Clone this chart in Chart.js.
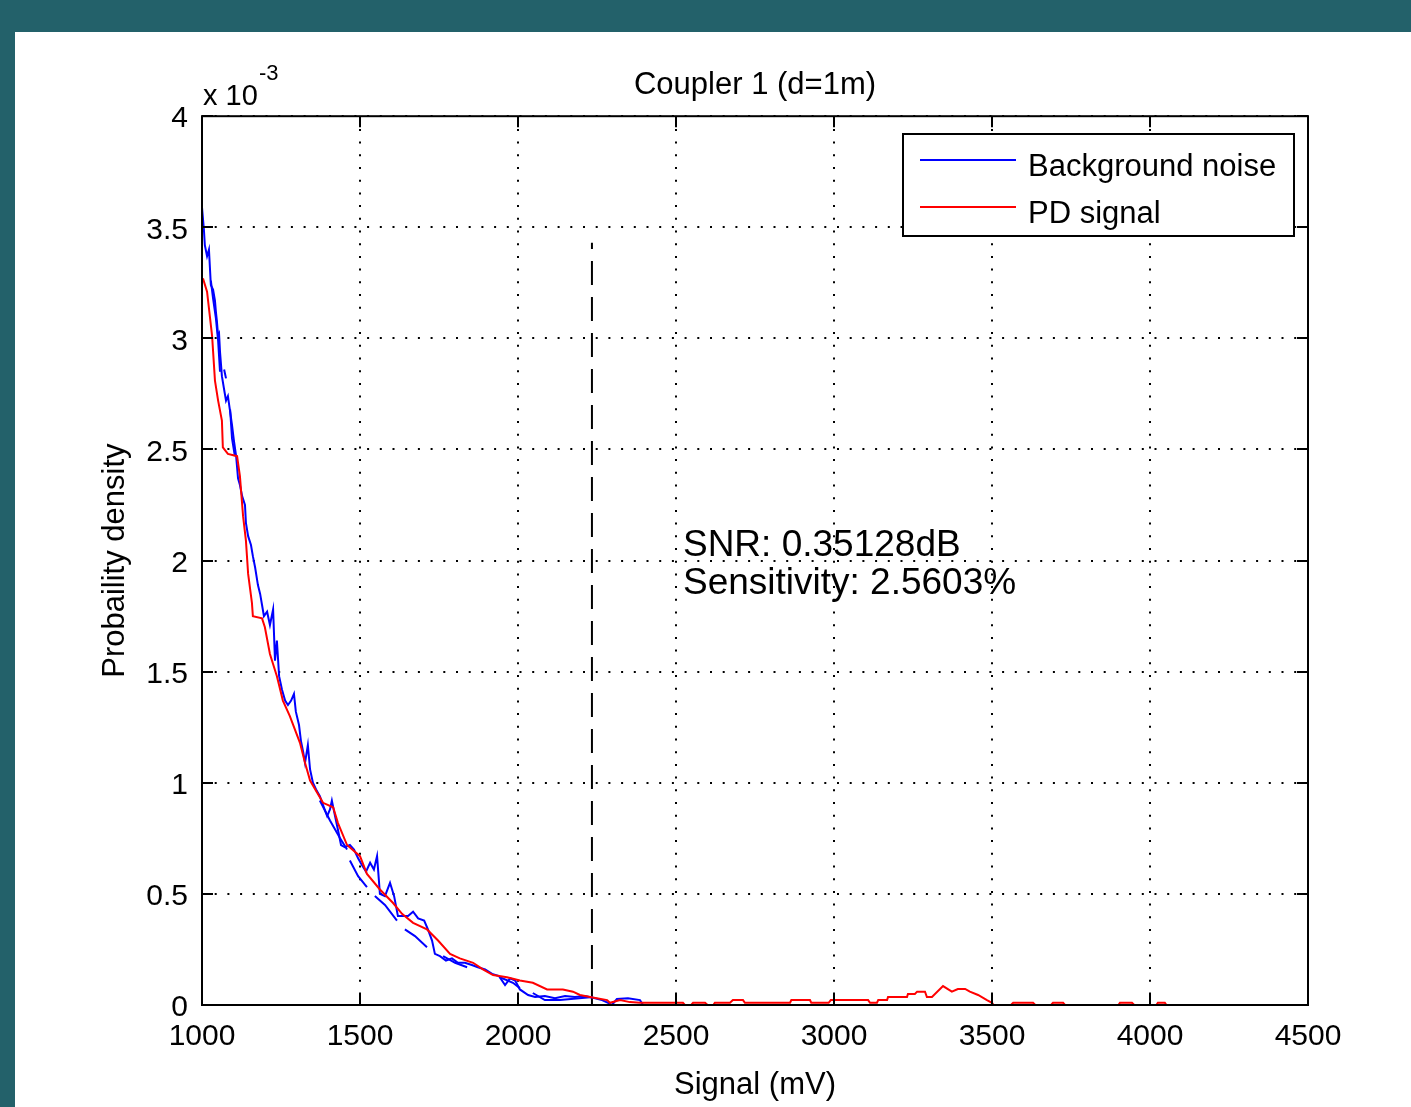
<!DOCTYPE html>
<html>
<head>
<meta charset="utf-8">
<script src="https://cdn.jsdelivr.net/npm/chart.js@4.4.1/dist/chart.umd.min.js"></script>
<style>
html,body{margin:0;padding:0;background:#23616a;overflow:hidden;}
canvas{display:block;}
</style>
</head>
<body>
<canvas id="c" width="1411" height="1107"></canvas>
<script>
// ---- DATA (signal in mV, density in units of 1e-3) ----
const chartTitle = 'Coupler 1 (d=1m)';
const xLabel = 'Signal (mV)';
const yLabel = 'Probaility density';
const xTickValues = [1000, 1500, 2000, 2500, 3000, 3500, 4000, 4500];
const yTickValues = [0, 0.5, 1, 1.5, 2, 2.5, 3, 3.5, 4];
const seriesNames = ['Background noise', 'PD signal'];

const noiseX = [1000,1006,1009,1016,1022,1025,1028,1035,1041,1044,1047,1051,1054,1057,1063,1070,1076,1082,1089,1095,1101,1108,1114,1120,1127,1136,1139,1146,1155,1161,1168,1177,1184,1190,1196,1206,1215,1225,1231,1237,1244,1253,1263,1272,1282,1291,1297,1307,1313,1320,1326,1335,1342,1351,1361,1373,1383,1396,1405,1411,1421,1430,1440,1452,1468,1481,1494,1506,1519,1532,1544,1554,1563,1579,1595,1608,1620,1636,1652,1668,1684,1703,1715,1728,1737,1753,1772,1791,1810,1832,1854,1873,1896,1918,1940,1959,1975,1991,2006,2032,2054,2085,2117,2149,2180,2212,2244,2266,2285,2297,2313,2348,2386,2396];
const noiseY = [3.59,3.49,3.42,3.37,3.40,3.32,3.24,3.22,3.17,3.12,3.08,3.01,3.02,2.94,2.83,2.77,2.72,2.74,2.67,2.61,2.54,2.47,2.37,2.34,2.29,2.25,2.17,2.11,2.07,2.02,1.97,1.89,1.85,1.80,1.75,1.77,1.71,1.78,1.55,1.64,1.48,1.42,1.37,1.35,1.37,1.40,1.32,1.26,1.19,1.14,1.09,1.17,1.06,1.00,0.97,0.94,0.90,0.85,0.88,0.92,0.85,0.79,0.72,0.71,0.72,0.70,0.66,0.63,0.60,0.64,0.61,0.67,0.50,0.49,0.55,0.49,0.40,0.40,0.40,0.42,0.39,0.38,0.34,0.29,0.23,0.22,0.20,0.21,0.19,0.19,0.18,0.17,0.16,0.14,0.13,0.09,0.12,0.11,0.07,0.045,0.036,0.04,0.03,0.04,0.036,0.04,0.03,0.022,0.01,0,0.027,0.03,0.022,0];

// second background-noise trace (broken pieces)
const noise2X = [1028,1035,1044,1051,1057,1062,1070,1076,1080,1089,1095,1104,1110,1373,1405,1437,1459,1463,1468,1494,1522,1530,1547,1579,1617,1625,1642,1674,1712,1720,1763,1801,1839,1845,1943,1984,2006,2015,2047,2085,2133,2237];
const noise2Y = [3.26,3.18,3.09,2.99,2.85,null,2.86,2.82,null,2.68,2.55,2.47,null,0.92,0.83,0.75,0.70,null,0.65,0.58,0.53,null,0.49,0.45,0.38,null,0.34,0.31,0.26,null,0.22,0.19,0.17,null,0.125,0.10,0.076,null,0.054,0.022,0.022,0.036];

const pdX = [1003,1016,1032,1041,1051,1063,1066,1082,1111,1120,1130,1139,1146,1158,1161,1190,1199,1215,1237,1256,1278,1310,1326,1342,1383,1415,1430,1459,1500,1522,1563,1604,1633,1668,1712,1747,1785,1816,1858,1889,1921,1965,2006,2047,2092,2142,2174,2196,2228,2282,2291,2323,2354,2386,2522,2528,2548,2554,2592,2600,2618,2623,2671,2680,2712,2718,2861,2865,2924,2928,2983,2990,3108,3114,3136,3140,3168,3171,3231,3234,3256,3263,3288,3294,3310,3345,3373,3392,3415,3430,3456,3484,3500,3505,3560,3567,3630,3637,3687,3693,3725,3731,3900,3905,3943,3950,4020,4025,4047,4052];
const pdY = [3.27,3.21,3.01,2.81,2.72,2.63,2.51,2.48,2.47,2.38,2.20,2.09,1.94,1.81,1.75,1.74,1.70,1.58,1.48,1.37,1.30,1.18,1.09,1.01,0.91,0.89,0.82,0.72,0.67,0.59,0.52,0.46,0.41,0.37,0.34,0.29,0.23,0.21,0.19,0.16,0.135,0.125,0.11,0.10,0.07,0.07,0.06,0.045,0.036,0.022,0.01,0.022,0.013,0.01,0.01,0,0,0.01,0.01,0,0,0.01,0.01,0.022,0.022,0.01,0.01,0.022,0.022,0.01,0.01,0.022,0.022,0.01,0.01,0.022,0.022,0.036,0.036,0.05,0.05,0.06,0.06,0.036,0.036,0.085,0.06,0.072,0.072,0.06,0.045,0.022,0.01,0,0,0.01,0.01,0,0,0.01,0.01,0,0,0.01,0.01,0,0,0.01,0.01,0];

const thresholdX = [2234, 2234];
const thresholdY = [0, 3.43];

const annotationLines = ['SNR: 0.35128dB', 'Sensitivity: 2.5603%'];
const annotationAt = {x: 2522, y: 2.02};

// ---- build ----
const pts = (xs, ys) => xs.map((x, i) => ({x: x, y: ys[i]}));
const FONT = '"Liberation Sans", Arial, Helvetica, sans-serif';

const framePlugin = {
  id: 'frame',
  beforeDraw(chart) {
    const ctx = chart.ctx;
    ctx.save();
    ctx.fillStyle = '#23616a';
    ctx.fillRect(0, 0, chart.width, chart.height);
    ctx.fillStyle = '#ffffff';
    ctx.fillRect(15, 32, chart.width - 15, chart.height - 32);
    ctx.restore();
  },
  afterDatasetsDraw(chart) {
    const {ctx, chartArea: a, scales} = chart;
    ctx.save();
    ctx.strokeStyle = '#000';
    ctx.lineWidth = 2;
    ctx.strokeRect(a.left, a.top, a.right - a.left, a.bottom - a.top);
    // inward ticks on all four sides
    const tl = 11;
    ctx.beginPath();
    xTickValues.forEach(v => {
      const px = Math.round(scales.x.getPixelForValue(v));
      ctx.moveTo(px, a.bottom); ctx.lineTo(px, a.bottom - tl);
      ctx.moveTo(px, a.top); ctx.lineTo(px, a.top + tl);
    });
    yTickValues.forEach(v => {
      const py = Math.round(scales.y.getPixelForValue(v));
      ctx.moveTo(a.left, py); ctx.lineTo(a.left + tl, py);
      ctx.moveTo(a.right, py); ctx.lineTo(a.right - tl, py);
    });
    ctx.stroke();
    // exponent label
    ctx.fillStyle = '#000';
    ctx.textBaseline = 'alphabetic';
    ctx.textAlign = 'left';
    ctx.font = '29px ' + FONT;
    ctx.fillText('x 10', a.left + 1, a.top - 11);
    ctx.font = '22px ' + FONT;
    ctx.fillText('-3', a.left + 57, a.top - 36);
    // annotation
    ctx.font = '37px ' + FONT;
    const ax = scales.x.getPixelForValue(annotationAt.x);
    const ay = scales.y.getPixelForValue(annotationAt.y);
    annotationLines.forEach((t, i) => ctx.fillText(t, ax, ay + i * 38));
    // legend
    const lx = 903, ly = 134, lw = 391, lh = 102;
    ctx.fillStyle = '#fff';
    ctx.fillRect(lx, ly, lw, lh);
    ctx.strokeRect(lx, ly, lw, lh);
    ctx.font = '31px ' + FONT;
    ctx.textBaseline = 'middle';
    const items = chart.data.datasets.filter(d => d.inLegend).sort((p, q) => p.legendIndex - q.legendIndex);
    items.forEach((d, i) => {
      const y = ly + 26 + i * 47;
      ctx.strokeStyle = d.borderColor;
      ctx.lineWidth = 2;
      ctx.beginPath(); ctx.moveTo(920, y); ctx.lineTo(1016, y); ctx.stroke();
      ctx.fillStyle = '#000';
      ctx.fillText(d.label, 1028, y + 7);
    });
    ctx.restore();
  }
};

new Chart(document.getElementById('c'), {
  type: 'line',
  data: {
    datasets: [
      {label: seriesNames[1], data: pts(pdX, pdY), borderColor: '#ff0000', borderWidth: 2, pointRadius: 0, tension: 0, order: 0, inLegend: true, legendIndex: 1},
      {label: seriesNames[0], data: pts(noiseX, noiseY), borderColor: '#0000ff', borderWidth: 2, pointRadius: 0, tension: 0, order: 1, inLegend: true, legendIndex: 0},
      {label: seriesNames[0] + ' (2)', data: pts(noise2X, noise2Y), borderColor: '#0000ff', borderWidth: 2, pointRadius: 0, tension: 0, spanGaps: false, order: 2},
      {label: 'threshold', data: pts(thresholdX, thresholdY), borderColor: '#000', borderWidth: 2, borderDash: [24, 12], pointRadius: 0, order: 3}
    ]
  },
  options: {
    responsive: false,
    animation: false,
    devicePixelRatio: 1,
    layout: {padding: {left: 0, right: 103, top: 0, bottom: 0}},
    plugins: {
      legend: {display: false},
      tooltip: {enabled: false},
      title: {
        display: true, text: chartTitle, color: '#000', fullSize: false,
        font: {family: FONT, size: 31, weight: 'normal'},
        padding: {top: 67, bottom: 12}
      }
    },
    scales: {
      x: {
        type: 'linear', min: 1000, max: 4500,
        afterBuildTicks: s => { s.ticks = xTickValues.map(v => ({value: v})); },
        afterFit: s => { s.height = 102; },
        ticks: {color: '#000', padding: 14, font: {family: FONT, size: 30}, maxRotation: 0, autoSkip: false, callback: v => String(v)},
        grid: {color: '#000', lineWidth: 2, drawTicks: false},
        border: {display: false, dash: [2, 10.7]},
        title: {display: true, text: xLabel, color: '#000', font: {family: FONT, size: 31}, padding: {top: 0, bottom: 3}}
      },
      y: {
        type: 'linear', min: 0, max: 4,
        afterBuildTicks: s => { s.ticks = yTickValues.map(v => ({value: v})); },
        afterFit: s => { s.width = 202; },
        ticks: {color: '#000', padding: 14, labelOffset: 3, font: {family: FONT, size: 30}, callback: v => String(v)},
        grid: {color: '#000', lineWidth: 2, drawTicks: false},
        border: {display: false, dash: [2, 10.7]},
        title: {display: true, text: yLabel, color: '#000', font: {family: FONT, size: 31}, padding: {top: 97, bottom: 0}}
      }
    }
  },
  plugins: [framePlugin]
});
</script>
</body>
</html>
